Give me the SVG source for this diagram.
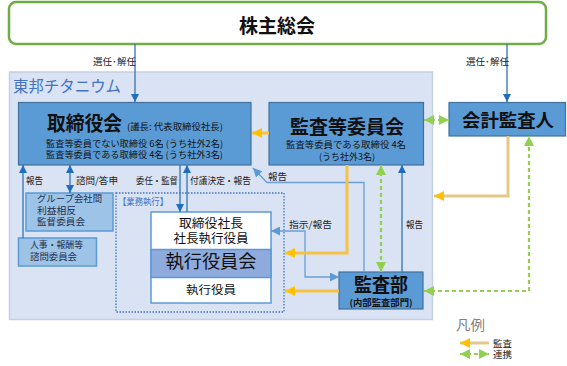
<svg xmlns="http://www.w3.org/2000/svg" width="567" height="366" viewBox="0 0 567 366">
<style>
text{font-family:"Noto Sans CJK JP","Noto Sans",sans-serif;fill:#111}
.box{fill:#5b9bd5;stroke:#41719c;stroke-width:1.2}
.sub{fill:#9dc3e6;stroke:#5b9bd5;stroke-width:1.5}
.t{font-weight:bold}
.lbl{font-size:9.5px;fill:#222}
.sm{font-size:9px}
.navy{fill:#1f3050}
.b{fill:none;stroke:#2e75b6;stroke-width:1.3}
.lb{fill:none;stroke:#6a9fd6;stroke-width:1.3}
.y{fill:none;stroke:#f5c245;stroke-width:3}
.tan{fill:none;stroke:#e3c888;stroke-width:3}
.g{fill:none;stroke:#92d050;stroke-width:2.2;stroke-dasharray:4 3}
</style>
<defs>
<marker id="mb" viewBox="0 0 10 10" refX="10" refY="5" markerWidth="8" markerHeight="8" markerUnits="userSpaceOnUse" orient="auto-start-reverse"><path d="M0,0 L10,5 L0,10 z" fill="#1f6fc0"/></marker>
<marker id="ml" viewBox="0 0 10 10" refX="10" refY="5" markerWidth="9" markerHeight="9" markerUnits="userSpaceOnUse" orient="auto-start-reverse"><path d="M0,0 L10,5 L0,10 z" fill="#5b9bd5"/></marker>
<marker id="my" viewBox="0 0 10 10" refX="10" refY="5" markerWidth="10" markerHeight="10" markerUnits="userSpaceOnUse" orient="auto-start-reverse"><path d="M0,0 L10,5 L0,10 z" fill="#ffc000"/></marker>
<marker id="mg" viewBox="0 0 10 10" refX="10" refY="5" markerWidth="10" markerHeight="10" markerUnits="userSpaceOnUse" orient="auto-start-reverse"><path d="M0,0 L10,5 L0,10 z" fill="#92d050"/></marker>
</defs>
<rect width="567" height="366" fill="#fff"/>

<g id="shareholders">
<rect x="9" y="2" width="537" height="42" rx="7" fill="#fff" stroke="#70ad47" stroke-width="2.5"/>
<text x="277" y="33" text-anchor="middle" class="t" font-size="19">株主総会</text>
</g>

<g id="company">
<rect x="9.5" y="72" width="423" height="247.5" fill="#dae3f3" stroke="#c5d0e2" stroke-width="1.5"/>
<text x="13" y="92" font-size="16" style="fill:#4472c4" textLength="108" lengthAdjust="spacingAndGlyphs">東邦チタニウム</text>
</g>

<g id="board">
<rect class="box" x="18.5" y="102.5" width="232.5" height="62.5"/>
<text x="47" y="131" class="t" font-size="20" textLength="75" lengthAdjust="spacingAndGlyphs">取締役会</text>
<text x="127" y="130" font-size="9" textLength="96" lengthAdjust="spacingAndGlyphs">(議長: 代表取締役社長)</text>
<text x="46" y="147" class="sm" textLength="177" lengthAdjust="spacingAndGlyphs">監査等委員でない取締役 6名 (うち社外2名)</text>
<text x="46" y="158" class="sm" textLength="177" lengthAdjust="spacingAndGlyphs">監査等委員である取締役 4名 (うち社外3名)</text>
</g>

<g id="audit-committee">
<rect class="box" x="269" y="102.5" width="154.5" height="62.5"/>
<text x="347" y="134" text-anchor="middle" class="t" font-size="19" textLength="114" lengthAdjust="spacingAndGlyphs">監査等委員会</text>
<text x="286" y="148" class="sm" textLength="120" lengthAdjust="spacingAndGlyphs">監査等委員である取締役 4名</text>
<text x="319" y="159.5" class="sm" textLength="56" lengthAdjust="spacingAndGlyphs">(うち社外3名)</text>
</g>

<g id="accounting-auditor">
<rect class="box" x="449" y="102.5" width="116.5" height="33.5"/>
<text x="508" y="127" text-anchor="middle" class="t" font-size="18" textLength="92" lengthAdjust="spacingAndGlyphs">会計監査人</text>
</g>

<g id="group-committee">
<rect class="sub" x="26" y="193" width="87" height="38"/>
<text x="37" y="202" class="navy" font-size="9.5" textLength="65" lengthAdjust="spacingAndGlyphs">グループ会社間</text>
<text x="37" y="213.5" class="navy" font-size="9.5" textLength="39" lengthAdjust="spacingAndGlyphs">利益相反</text>
<text x="37" y="225" class="navy" font-size="9.5" textLength="48" lengthAdjust="spacingAndGlyphs">監督委員会</text>
</g>

<g id="nomination-committee">
<rect class="sub" x="18.5" y="238" width="78" height="28"/>
<text x="30" y="247.5" class="navy" font-size="9.5" textLength="53" lengthAdjust="spacingAndGlyphs">人事・報酬等</text>
<text x="30" y="259.5" class="navy" font-size="9.5" textLength="47" lengthAdjust="spacingAndGlyphs">諮問委員会</text>
</g>

<g id="business-execution">
<rect x="116" y="193" width="168" height="119" fill="none" stroke="#4472c4" stroke-width="1.3" stroke-dasharray="1.5 1.5"/>
<text x="118" y="205" font-size="9.5" style="fill:#4472c4" textLength="50" lengthAdjust="spacingAndGlyphs">【業務執行】</text>
</g>

<g id="executive-board">
<rect x="151" y="212" width="120" height="91" fill="#fff" stroke="#5b9bd5" stroke-width="1.5"/>
<rect x="151" y="249.5" width="120" height="28" fill="#8faadc" stroke="#5b9bd5" stroke-width="1.5"/>
<text x="211" y="228" text-anchor="middle" font-size="12.5" textLength="64" lengthAdjust="spacingAndGlyphs">取締役社長</text>
<text x="211" y="243" text-anchor="middle" font-size="12.5" textLength="75" lengthAdjust="spacingAndGlyphs">社長執行役員</text>
<text x="211" y="268" text-anchor="middle" font-size="18" textLength="91" lengthAdjust="spacingAndGlyphs">執行役員会</text>
<text x="211" y="294" text-anchor="middle" font-size="11" textLength="50" lengthAdjust="spacingAndGlyphs">執行役員</text>
</g>

<g id="internal-audit">
<rect class="box" x="339" y="272" width="84" height="37"/>
<text x="381" y="292" text-anchor="middle" class="t" font-size="19" textLength="54" lengthAdjust="spacingAndGlyphs">監査部</text>
<text x="381" y="305.5" text-anchor="middle" class="t" font-size="9" textLength="63" lengthAdjust="spacingAndGlyphs">(内部監査部門)</text>
</g>

<g id="connectors">
<path class="b" d="M135,44 V102" marker-end="url(#mb)"/>
<path class="b" d="M507,44 V102" marker-end="url(#mb)"/>
<path class="b" d="M23,238 V165" marker-end="url(#mb)"/>
<path class="b" d="M70,193 V165" marker-start="url(#mb)" marker-end="url(#mb)"/>
<path class="b" d="M180,165 V212" marker-end="url(#mb)"/>
<path class="b" d="M187,212 V165" marker-end="url(#mb)"/>
<path class="b" d="M402,272 V165" marker-end="url(#mb)"/>
<path class="lb" d="M364,272 V182.5 H267 L253,168" marker-end="url(#ml)"/>
<path class="lb" d="M271,231 H305 V277 H339" marker-start="url(#ml)" marker-end="url(#ml)"/>
<path class="y" d="M269,133 H252" marker-end="url(#my)"/>
<path class="y" d="M347,165 V253 H285" marker-end="url(#my)"/>
<path class="y" d="M339,291 H285" marker-end="url(#my)"/>
<path class="tan" d="M508,136 V196 H434" marker-end="url(#my)"/>
<path class="g" d="M424,120 H449" marker-start="url(#mg)" marker-end="url(#mg)"/>
<path class="g" d="M381,165 V272" marker-start="url(#mg)" marker-end="url(#mg)"/>
<path class="g" d="M424,291 H529 V136" marker-start="url(#mg)" marker-end="url(#mg)"/>
</g>

<g id="labels">
<text x="93" y="65" class="lbl" font-size="9" textLength="43" lengthAdjust="spacingAndGlyphs">選任･解任</text>
<text x="466" y="65" class="lbl" font-size="9" textLength="43" lengthAdjust="spacingAndGlyphs">選任･解任</text>
<text x="26" y="184" class="lbl" textLength="17" lengthAdjust="spacingAndGlyphs">報告</text>
<text x="76" y="184" class="lbl" textLength="42" lengthAdjust="spacingAndGlyphs">諮問/答申</text>
<text x="136" y="184" class="lbl" textLength="42" lengthAdjust="spacingAndGlyphs">委任・監督</text>
<text x="190" y="184" class="lbl" textLength="61" lengthAdjust="spacingAndGlyphs">付議決定・報告</text>
<text x="268" y="180" class="lbl" textLength="19" lengthAdjust="spacingAndGlyphs">報告</text>
<text x="289" y="228" class="lbl" textLength="43" lengthAdjust="spacingAndGlyphs">指示/報告</text>
<text x="406" y="228" class="lbl" textLength="17" lengthAdjust="spacingAndGlyphs">報告</text>
</g>

<g id="legend">
<text x="456" y="330" font-size="14" style="fill:#7f7f7f" textLength="29" lengthAdjust="spacingAndGlyphs">凡例</text>
<path class="tan" d="M489,343 H460" marker-end="url(#my)"/>
<path d="M460,354 H489" fill="none" stroke="#92d050" stroke-width="2.2" stroke-dasharray="4 3" marker-start="url(#mg)" marker-end="url(#mg)"/>
<text x="493" y="346.5" class="lbl" textLength="19" lengthAdjust="spacingAndGlyphs">監査</text>
<text x="493" y="358" class="lbl" textLength="19" lengthAdjust="spacingAndGlyphs">連携</text>
</g>
</svg>
